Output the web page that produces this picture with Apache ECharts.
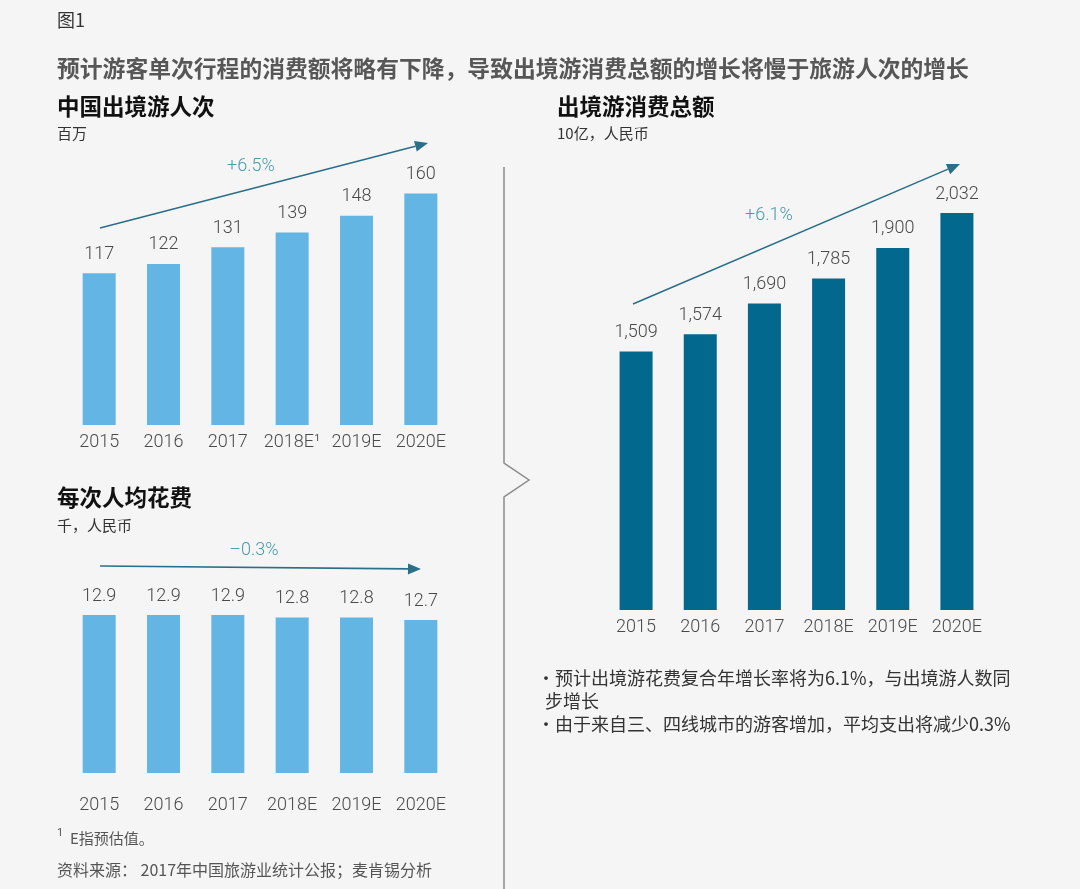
<!DOCTYPE html>
<html>
<head>
<meta charset="utf-8">
<script src="https://cdn.jsdelivr.net/npm/echarts@6/dist/echarts.min.js"></script>
<style>
html,body{margin:0;padding:0;background:#f5f5f5;}
#c{width:1080px;height:889px;}
</style>
</head>
<body>
<div id="c"></div>
<script>
// ---- data ----
const categoriesTop = ['2015', '2016', '2017', '2018E¹', '2019E', '2020E'];
const categories = ['2015', '2016', '2017', '2018E', '2019E', '2020E'];
const travelers = [117, 122, 131, 139, 148, 160];        // 百万
const totalSpending = [1509, 1574, 1690, 1785, 1900, 2032]; // 10亿，人民币
const perTripSpending = [12.9, 12.9, 12.9, 12.8, 12.8, 12.7]; // 千，人民币
const cagrTravelers = '+6.5%';
const cagrSpending = '+6.1%';
const cagrPerTrip = '–0.3%';

// ---- styles ----
const lightBlue = '#63b5e3';
const darkTeal = '#03688e';
const arrowColor = '#2a6f88';
const cagrColor = '#4a9aaa';
const numFont = 'Roboto';
const cjk = '"Noto Sans CJK SC"';

const chart = echarts.init(document.getElementById('c'), null, {renderer: 'canvas'});

function xAxis(gridIndex, data, margin) {
  return {
    type: 'category', gridIndex, data,
    axisLine: {show: false}, axisTick: {show: false}, splitLine: {show: false},
    axisLabel: {margin, fontSize: 18, color: '#4a4a4a', fontFamily: numFont, fontWeight: 300, interval: 0}
  };
}
function yAxis(gridIndex, min, max) {
  return {type: 'value', gridIndex, min, max, show: false, splitLine: {show: false}};
}
function barSeries(idx, data, color, fmt) {
  return {
    type: 'bar', xAxisIndex: idx, yAxisIndex: idx, data, barWidth: 33,
    itemStyle: {color},
    label: {show: true, position: 'top', distance: 10, fontSize: 18, color: '#4a4a4a',
      fontFamily: numFont, fontWeight: 300, formatter: fmt},
    silent: true, animation: false
  };
}

function arrow(x1, y1, x2, y2, len, half) {
  const dx = x2 - x1, dy = y2 - y1, L = Math.sqrt(dx*dx + dy*dy);
  const ux = dx / L, uy = dy / L;
  const bx = x2 - ux * len, by = y2 - uy * len;
  return [
    {type: 'line', shape: {x1, y1, x2: bx, y2: by}, style: {stroke: arrowColor, lineWidth: 1.6}, silent: true},
    {type: 'polygon', shape: {points: [[x2, y2], [bx - uy * half, by + ux * half], [bx + uy * half, by - ux * half]]},
      style: {fill: arrowColor}, silent: true}
  ];
}
function txt(x, y, text, font, fill, align) {
  return {type: 'text', x, y, silent: true,
    style: {text, font, fill, align: align || 'left', verticalAlign: 'middle'}};
}

const graphics = [
  txt(57, 20, '图1', '18px ' + cjk, '#333'),
  txt(57, 68, '预计游客单次行程的消费额将略有下降，导致出境游消费总额的增长将慢于旅游人次的增长', 'bold 22.8px ' + cjk, '#575757'),
  txt(57, 106, '中国出境游人次', 'bold 22.5px ' + cjk, '#111'),
  txt(57, 133, '百万', '15px ' + cjk, '#333'),
  txt(557, 106, '出境游消费总额', 'bold 22.5px ' + cjk, '#111'),
  txt(557, 133, '10亿，人民币', '15px ' + cjk, '#333'),
  txt(57, 497, '每次人均花费', 'bold 22.5px ' + cjk, '#111'),
  txt(57, 525, '千，人民币', '15px ' + cjk, '#333'),
  txt(251, 166, cagrTravelers, '300 18px ' + numFont, cagrColor, 'center'),
  txt(769, 215, cagrSpending, '300 18px ' + numFont, cagrColor, 'center'),
  txt(254, 550, cagrPerTrip, '300 18px ' + numFont, cagrColor, 'center'),
  txt(537, 678, '·预计出境游花费复合年增长率将为6.1%，与出境游人数同', '18px ' + cjk, '#333'),
  txt(545, 701, '步增长', '18px ' + cjk, '#333'),
  txt(537, 724, '·由于来自三、四线城市的游客增加，平均支出将减少0.3%', '18px ' + cjk, '#333'),
  txt(57, 833, '1', '11px ' + numFont, '#555'),
  txt(70, 838, 'E指预估值。', '15px ' + cjk, '#555'),
  txt(57, 870, '资料来源： 2017年中国旅游业统计公报；麦肯锡分析', '16px ' + cjk, '#555'),
  {type: 'polyline', silent: true,
    shape: {points: [[504, 167], [504, 463], [529, 480], [504, 497], [504, 889]]},
    style: {stroke: '#8a8a8a', lineWidth: 1.5, fill: null}}
].concat(
  arrow(100, 228, 428, 143, 13, 5.5),
  arrow(633, 304, 960, 164, 13, 5.5),
  arrow(100, 566, 421, 569, 13, 5.5)
);

chart.setOption({
  backgroundColor: '#f5f5f5',
  animation: false,
  grid: [
    {left: 67, width: 386, top: 193.5, height: 231.5},
    {left: 604, width: 385, top: 213, height: 397},
    {left: 67, width: 386, top: 615, height: 158}
  ],
  xAxis: [
    xAxis(0, categoriesTop, 8),
    xAxis(1, categories, 8),
    xAxis(2, categories, 23)
  ],
  yAxis: [
    yAxis(0, 35, 160),
    yAxis(1, 533, 2032),
    yAxis(2, 6.6, 12.9)
  ],
  series: [
    barSeries(0, travelers, lightBlue, p => String(p.value)),
    barSeries(1, totalSpending, darkTeal, p => p.value.toLocaleString('en-US')),
    barSeries(2, perTripSpending, lightBlue, p => p.value.toFixed(1))
  ],
  graphic: graphics
});
</script>
</body>
</html>
